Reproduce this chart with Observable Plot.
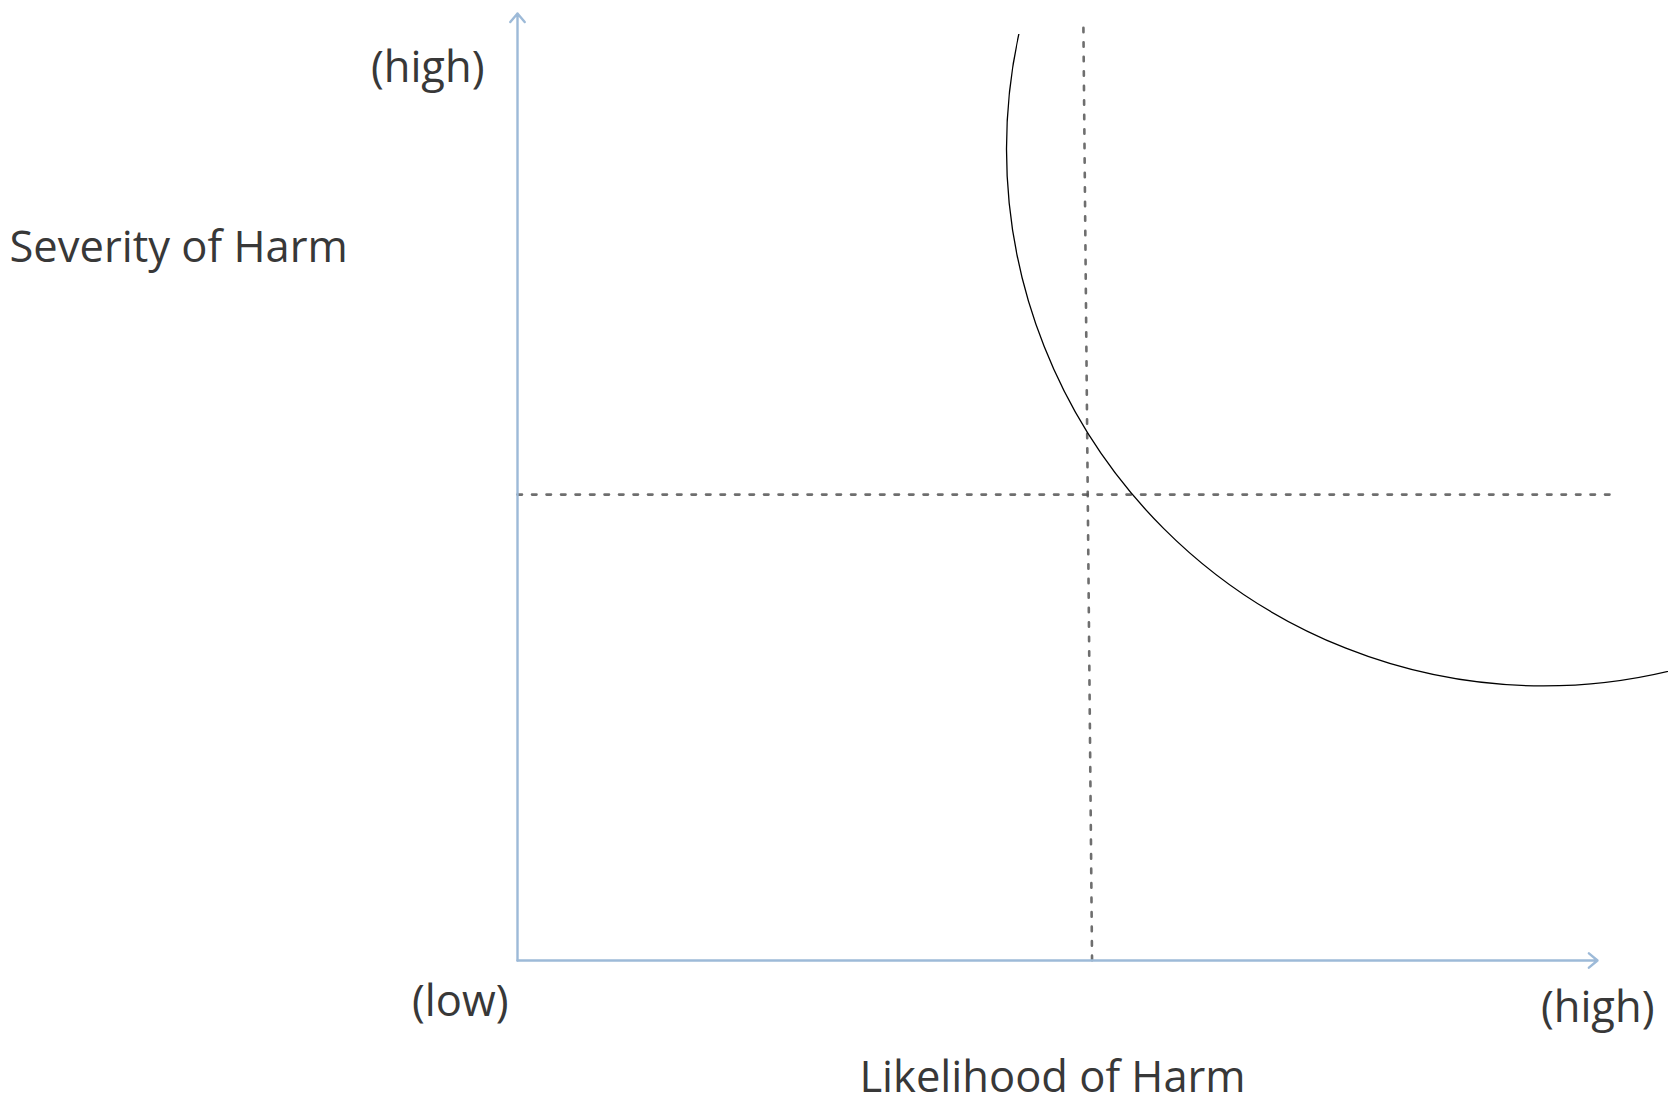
<!DOCTYPE html>
<html>
<head>
<meta charset="utf-8">
<script src="https://cdn.jsdelivr.net/npm/d3@7"></script>
<script src="https://cdn.jsdelivr.net/npm/@observablehq/plot@0.6"></script>
<style>
  html, body { margin: 0; padding: 0; background: #fff; }
  #chart svg { display: block; }
</style>
</head>
<body>
<div id="chart"></div>
<script>
// Axis extents (abstract units: 0 = low, 100 = high)
const likelihoodExtent = [0, 100];
const severityExtent = [0, 100];
// Vertical dotted threshold (slightly slanted in the original)
const thresholdLikelihood = [52.4, 53.2];
const thresholdLikelihoodSeverity = [98.5, 0];
// Horizontal dotted threshold
const thresholdSeverity = 49.2;
const thresholdSeverityExtent = [0, 101.6];
// Circled high-risk zone centre
const riskZoneLikelihood = [95.0];
const riskZoneSeverity = [85.7];
// Labels
const yAxisTitle = "Severity of Harm";
const xAxisTitle = "Likelihood of Harm";
const lowLabel = "(low)";
const highLabel = "(high)";

const axisColor = "#9dbad8";
const textColor = "#383838";
const font = "'Open Sans', Lato, sans-serif";
const fs = 43.5;
const fw = 500;

const chart = Plot.plot({
  width: 1668,
  height: 1108,
  marginLeft: 517,
  marginRight: 0,
  marginTop: 34,
  marginBottom: 148,
  x: {domain: likelihoodExtent, range: [517, 1597], axis: null},
  y: {domain: severityExtent, range: [960, 13], axis: null},
  style: {fontFamily: font, background: "#fff"},
  marks: [
    // dotted thresholds
    Plot.line(thresholdLikelihood.map((x, i) => ({x, y: thresholdLikelihoodSeverity[i]})),
      {x: "x", y: "y", stroke: "#555", strokeWidth: 2.6, strokeDasharray: "4.5,10", strokeOpacity: 0.85}),
    Plot.line(thresholdSeverityExtent.map(x => ({x, y: thresholdSeverity})),
      {x: "x", y: "y", stroke: "#555", strokeWidth: 2.6, strokeDasharray: "4.5,10", strokeOpacity: 0.85}),
    // axes with arrows
    Plot.arrow([{x1: likelihoodExtent[0], y1: 0, x2: likelihoodExtent[1], y2: 0}],
      {x1: "x1", y1: "y1", x2: "x2", y2: "y2", stroke: axisColor, strokeWidth: 2.4, headLength: 7, headAngle: 80}),
    Plot.arrow([{x1: 0, y1: severityExtent[0], x2: 0, y2: severityExtent[1]}],
      {x1: "x1", y1: "y1", x2: "x2", y2: "y2", stroke: axisColor, strokeWidth: 2.4, headLength: 7, headAngle: 80}),
    // high-risk circle
    Plot.dot(riskZoneLikelihood.map((x, i) => ({x, y: riskZoneSeverity[i]})),
      {x: "x", y: "y", r: 537, fill: "none", stroke: "#000", strokeWidth: 1.3, clip: true}),
    // labels
    Plot.text([highLabel], {x: 0, y: severityExtent[1], text: d => d, dx: -33, dy: 55,
      textAnchor: "end", lineAnchor: "middle", fontSize: fs, fontWeight: fw, fill: textColor}),
    Plot.text([lowLabel], {x: 0, y: severityExtent[0], text: d => d, dx: -9, dy: 42,
      textAnchor: "end", lineAnchor: "middle", fontSize: fs, fontWeight: fw, fill: textColor}),
    Plot.text([highLabel], {x: likelihoodExtent[1], y: 0, text: d => d, dx: 57, dy: 48,
      textAnchor: "end", lineAnchor: "middle", fontSize: fs, fontWeight: fw, fill: textColor}),
    Plot.text([yAxisTitle], {x: 0, y: severityExtent[1], text: d => d, dx: -508, dy: 235,
      textAnchor: "start", lineAnchor: "middle", fontSize: fs, fontWeight: fw, fill: textColor}),
    Plot.text([xAxisTitle], {x: 50, y: 0, text: d => d, dx: -5, dy: 118,
      textAnchor: "middle", lineAnchor: "middle", fontSize: fs, fontWeight: fw, fill: textColor})
  ]
});
document.getElementById("chart").appendChild(chart);
</script>
</body>
</html>
